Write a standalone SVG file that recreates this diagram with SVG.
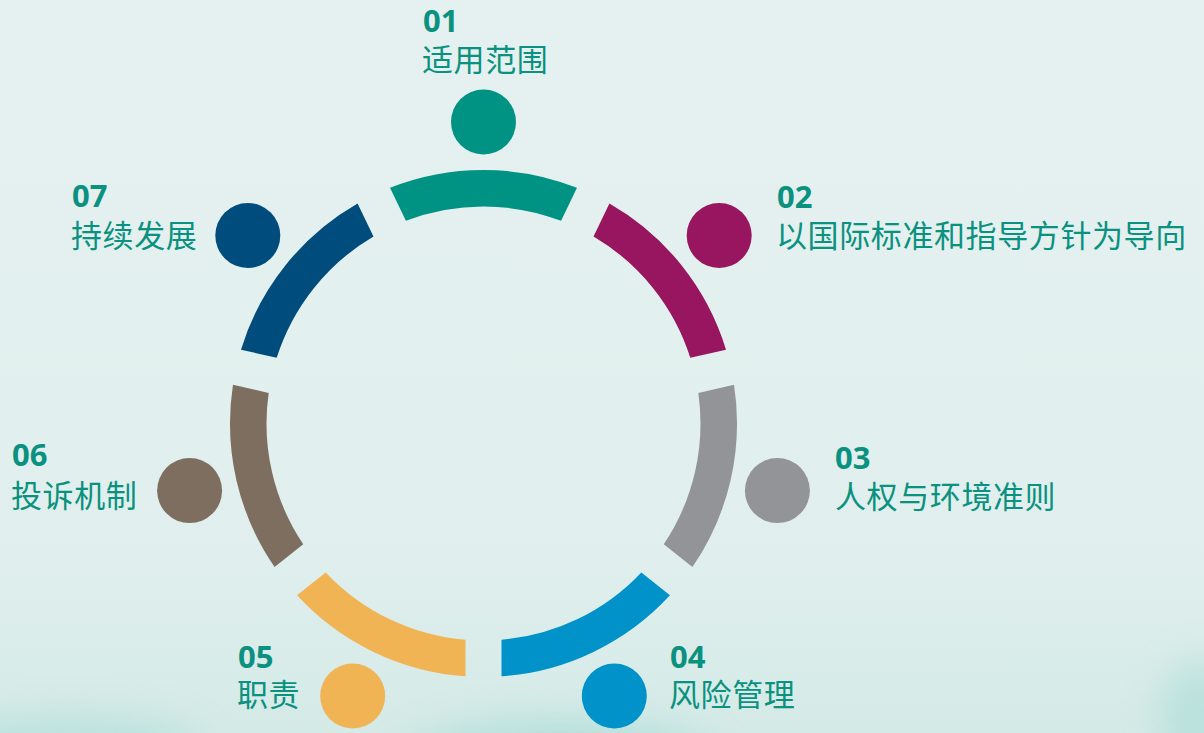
<svg xmlns="http://www.w3.org/2000/svg" width="1204" height="733" viewBox="0 0 1204 733">
  <defs>
    <linearGradient id="bg" x1="0" y1="0" x2="0" y2="1">
      <stop offset="0" stop-color="#e5f1f0"/>
      <stop offset="0.75" stop-color="#e0efed"/>
      <stop offset="1" stop-color="#d4eae7"/>
    </linearGradient>
    <filter id="blur" x="-50%" y="-50%" width="200%" height="200%">
      <feGaussianBlur stdDeviation="18"/>
    </filter>
    <path id="seg" d="M-93.49,-235.63 A253.5,253.5 0 0 1 93.49,-235.63 L77.62,-202.63 A217,217 0 0 0 -77.62,-202.63 Z"/>
    <style>
      .num { font-family: "Noto Sans", "Open Sans", "Liberation Sans", sans-serif; font-weight: 700; font-size: 31px; fill: #0a917f; }
      .lab { font-family: "Noto Sans CJK SC", "Noto Sans", sans-serif; font-weight: 400; font-size: 31px; letter-spacing: 0.6px; fill: #0a917f; }
    </style>
  </defs>

  <rect width="1204" height="733" fill="url(#bg)"/>
  <g filter="url(#blur)" opacity="0.6">
    <ellipse cx="560" cy="765" rx="160" ry="45" fill="#9fd8d2"/>
    <ellipse cx="70" cy="745" rx="130" ry="28" fill="#a8dbd5"/>
    <ellipse cx="1200" cy="720" rx="40" ry="60" fill="#a8dbd5"/>
  </g>

  <g id="node-01">
    <use href="#seg" fill="#009383" transform="translate(483.5,423.5)"/>
    <circle cx="483.5" cy="122" r="32.5" fill="#009383"/>
    <text class="num" x="423" y="32">01</text>
    <text class="lab" x="422" y="71">适用范围</text>
  </g>
  <g id="node-02">
    <use href="#seg" fill="#98155f" transform="translate(483.5,423.5) rotate(51.4286)"/>
    <circle cx="719.2" cy="235.5" r="32.5" fill="#98155f"/>
    <text class="num" x="777" y="208">02</text>
    <text class="lab" x="776" y="247">以国际标准和指导方针为导向</text>
  </g>
  <g id="node-03">
    <use href="#seg" fill="#939497" transform="translate(483.5,423.5) rotate(102.8571)"/>
    <circle cx="777.4" cy="490.6" r="32.5" fill="#939497"/>
    <text class="num" x="835" y="469">03</text>
    <text class="lab" x="835" y="508">人权与环境准则</text>
  </g>
  <g id="node-04">
    <use href="#seg" fill="#0092c9" transform="translate(483.5,423.5) rotate(154.2857)"/>
    <circle cx="614.3" cy="696" r="32.5" fill="#0092c9"/>
    <text class="num" x="670" y="668">04</text>
    <text class="lab" x="669" y="706">风险管理</text>
  </g>
  <g id="node-05">
    <use href="#seg" fill="#f0b455" transform="translate(483.5,423.5) rotate(205.7143)"/>
    <circle cx="352.7" cy="696" r="32.5" fill="#f0b455"/>
    <text class="num" x="238" y="668">05</text>
    <text class="lab" x="237" y="706">职责</text>
  </g>
  <g id="node-06">
    <use href="#seg" fill="#7e6e60" transform="translate(483.5,423.5) rotate(257.1429)"/>
    <circle cx="189.6" cy="490.6" r="32.5" fill="#7e6e60"/>
    <text class="num" x="12" y="466">06</text>
    <text class="lab" x="11" y="507">投诉机制</text>
  </g>
  <g id="node-07">
    <use href="#seg" fill="#004c7d" transform="translate(483.5,423.5) rotate(308.5714)"/>
    <circle cx="247.8" cy="235.5" r="32.5" fill="#004c7d"/>
    <text class="num" x="72" y="207">07</text>
    <text class="lab" x="71" y="247">持续发展</text>
  </g>
  <g id="connectors"/>
</svg>
